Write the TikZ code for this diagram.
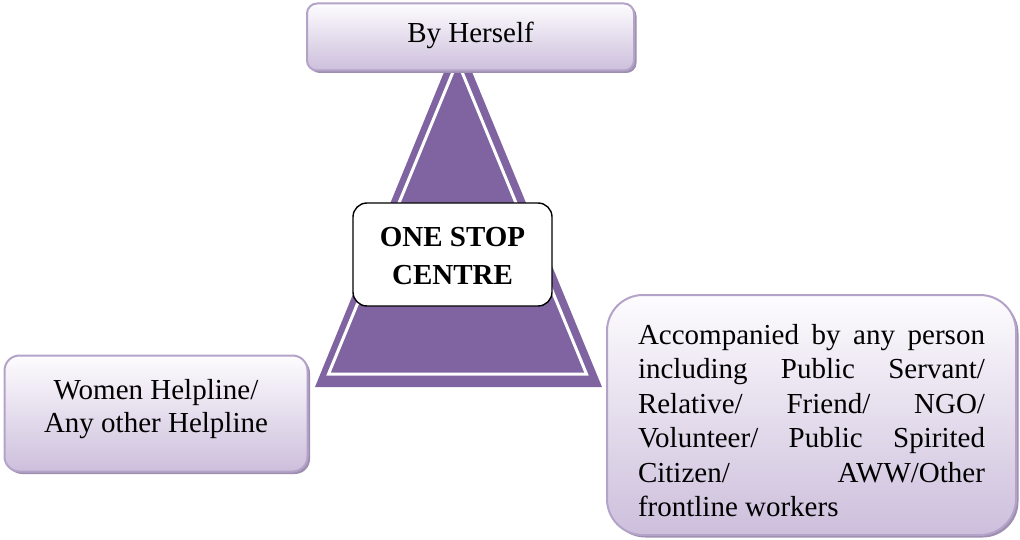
\documentclass[tikz,border=0pt]{standalone}
\usepackage{fontspec}
\setmainfont{Liberation Serif}
\usetikzlibrary{shadows}
\definecolor{purp}{HTML}{8064A2}
\definecolor{boxborder}{HTML}{B4A3C9}
\definecolor{boxbot}{HTML}{CDBFDC}
\definecolor{boxtop}{HTML}{FDFCFE}
\definecolor{shadowcol}{HTML}{9E8FB0}
\tikzset{
  lavbox/.style={draw=boxborder, line width=2pt, top color=boxtop, bottom color=boxbot,
    general shadow={fill=shadowcol, shadow xshift=2.5pt, shadow yshift=-2.5pt},
    inner sep=0pt, font=\fontsize{29}{33}\selectfont},
  centrebox/.style={draw=black, line width=1.4pt, fill=white, rounded corners=14pt,
    inner sep=0pt, align=center, font=\fontsize{29}{38}\selectfont\bfseries}
}
\begin{document}
\begin{tikzpicture}[x=1pt,y=-1pt]
\useasboundingbox (0,0) rectangle (1020,540);
% triangle
\coordinate (tA) at (458,38);
\coordinate (tB) at (315,387);
\coordinate (tC) at (602,387);
\coordinate (iA) at (457.5,61);
\coordinate (iB) at (328.5,374);
\coordinate (iC) at (586.5,374);
\fill[purp] (tA) -- (tB) -- (tC) -- cycle;
\draw[white, line width=3pt, line join=miter] (iA) -- (iB) -- (iC) -- cycle;
% top box
\node[lavbox, rounded corners=10pt, minimum width=327pt, minimum height=67pt] (top) at (470.5,37)
  {\raisebox{2pt}[\height][\depth]{By Herself}};
% centre
\node[centrebox, minimum width=199pt, minimum height=103pt] (centre) at (452.5,254.5)
  {\raisebox{-3.5pt}[\height][\depth]{\begin{tabular}{@{}c@{}}ONE STOP\\CENTRE\end{tabular}}};
% left box
\node[lavbox, rounded corners=15pt, minimum width=303pt, minimum height=116pt] (left) at (156,413.5)
  {\raisebox{4pt}[\height][\depth]{\begin{tabular}{@{}c@{}}Women Helpline/\\Any other Helpline\end{tabular}}};
% right box
\node[lavbox, rounded corners=36pt, minimum width=409pt, minimum height=240pt,
  font=\fontsize{29}{34.4}\selectfont] (right) at (811.5,415)
  {\raisebox{-5.5pt}[\height][\depth]{\begin{minipage}{347pt}\noindent Accompanied by any person\linebreak including Public Servant/\linebreak Relative/ Friend/ NGO/\linebreak Volunteer/ Public Spirited\linebreak Citizen/ AWW/Other\linebreak frontline workers\end{minipage}}};
\end{tikzpicture}
\end{document}
